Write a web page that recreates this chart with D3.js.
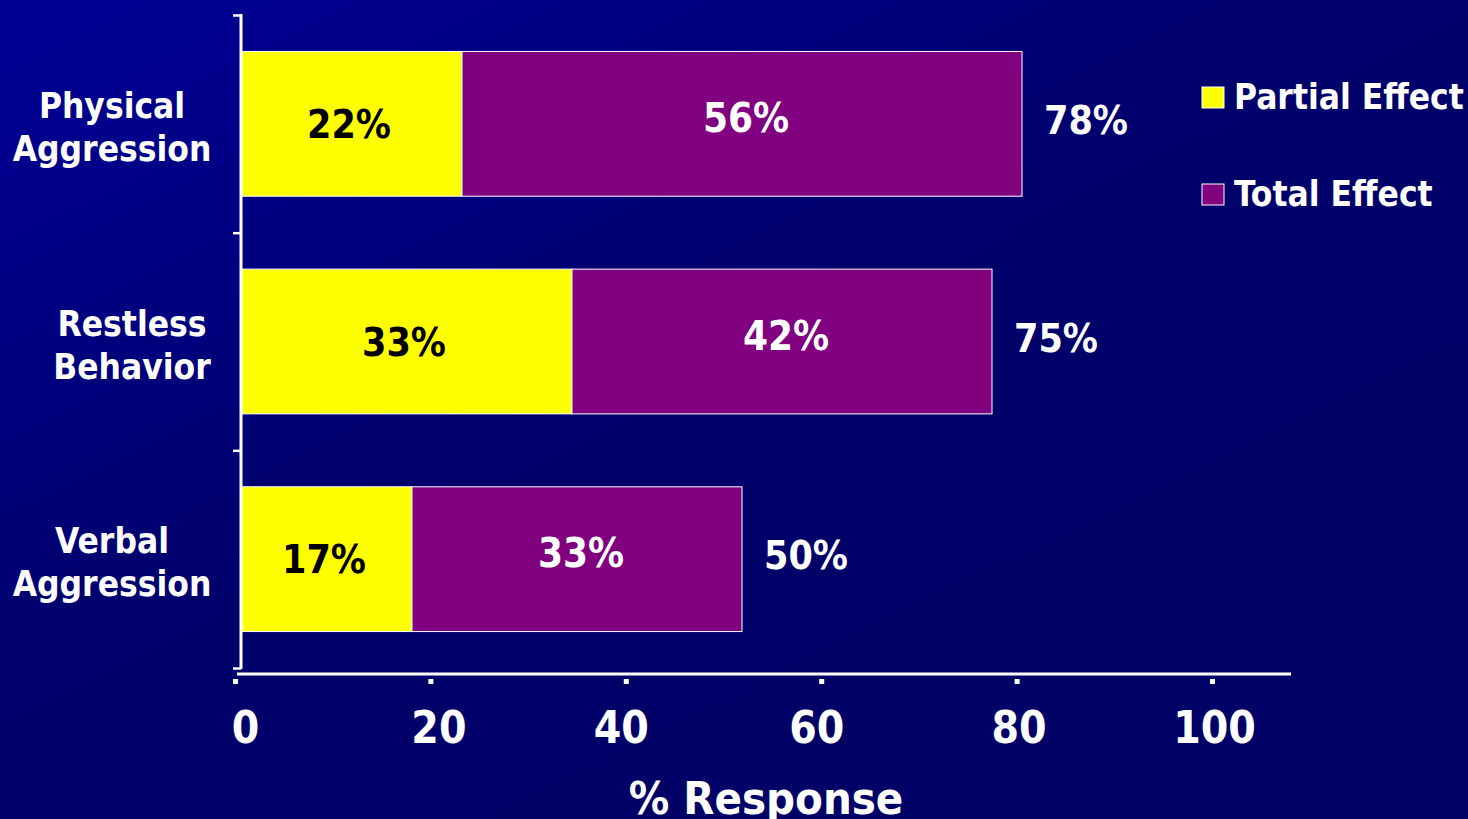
<!DOCTYPE html>
<html>
<head>
<meta charset="utf-8">
<script src="https://cdn.jsdelivr.net/npm/d3@7"></script>
<style>
  html, body { margin: 0; padding: 0; background: #000070; overflow: hidden; }
  text { font-family: "DejaVu Sans Condensed", "DejaVu Sans", sans-serif; font-stretch: condensed; font-weight: bold; }
</style>
</head>
<body>
<div id="chart"></div>
<script>
// data
const categories = ["Physical Aggression", "Restless Behavior", "Verbal Aggression"];
const categoryLines = [["Physical", "Aggression"], ["Restless", "Behavior"], ["Verbal", "Aggression"]];
const partialEffect = [22, 33, 17];
const totalEffect = [56, 42, 33];
const overall = [78, 75, 50];
const xTicks = [0, 20, 40, 60, 80, 100];
const seriesNames = ["Partial Effect", "Total Effect"];
const seriesColors = ["#ffff00", "#800080"];

const width = 1468;
const height = 819;

const svg = d3.select("#chart")
  .append("svg")
  .attr("width", width)
  .attr("height", height);

// background gradient
const grad = svg.append("defs")
  .append("linearGradient")
  .attr("id", "bg")
  .attr("x1", 0).attr("y1", 0)
  .attr("x2", 0.7).attr("y2", 0.8);
grad.append("stop").attr("offset", 0).attr("stop-color", "#000096");
grad.append("stop").attr("offset", 0.6).attr("stop-color", "#00006c");
grad.append("stop").attr("offset", 1).attr("stop-color", "#000066");
svg.append("rect").attr("width", width).attr("height", height).attr("fill", "url(#bg)");

//scales - bars and the printed axis don't line up exactly in the original, keep both
const xBar = d3.scaleLinear().domain([0, 100]).range([242, 1242]);
const xAxisScale = d3.scaleLinear().domain([0, 100]).range([235, 1212]);
const y = d3.scaleBand()
  .domain(categories)
  .range([15, 668])
  .paddingInner(0.335)
  .paddingOuter(0.1675);
const yEdges = d3.scaleLinear().domain([0, categories.length]).range([15, 668]);

const rows = categories.map((c, i) => ({
  cat: c,
  lines: categoryLines[i],
  partial: partialEffect[i],
  total: totalEffect[i],
  sum: overall[i],
}));

// bars
const g = svg.append("g");
g.selectAll("rect.partial")
  .data(rows)
  .enter()
  .append("rect")
  .attr("class", "partial")
  .attr("x", xBar(0))
  .attr("y", (d) => y(d.cat))
  .attr("width", (d) => xBar(d.partial) - xBar(0))
  .attr("height", y.bandwidth())
  .attr("fill", seriesColors[0])
  .attr("stroke", "#ffffff")
  .attr("stroke-width", 1);
g.selectAll("rect.total")
  .data(rows)
  .enter()
  .append("rect")
  .attr("class", "total")
  .attr("x", (d) => xBar(d.partial))
  .attr("y", (d) => y(d.cat))
  .attr("width", (d) => xBar(d.partial + d.total) - xBar(d.partial))
  .attr("height", y.bandwidth())
  .attr("fill", seriesColors[1])
  .attr("stroke", "#ffffff")
  .attr("stroke-width", 1);

// labels on bars
const mid = (d) => y(d.cat) + y.bandwidth() / 2;
g.selectAll("text.plab")
  .data(rows)
  .enter()
  .append("text")
  .attr("x", (d) => (xBar(0) + xBar(d.partial)) / 2 - 3)
  .attr("y", (d) => mid(d) + 14)
  .attr("text-anchor", "middle")
  .attr("font-size", 39)
  .attr("fill", "#000000")
  .text((d) => d.partial + "%");
g.selectAll("text.tlab")
  .data(rows)
  .enter()
  .append("text")
  .attr("x", (d) => (xBar(d.partial) + xBar(d.partial + d.total)) / 2 + 4)
  .attr("y", (d) => mid(d) + 8)
  .attr("text-anchor", "middle")
  .attr("font-size", 40)
  .attr("fill", "#ffffff")
  .text((d) => d.total + "%");
g.selectAll("text.slab")
  .data(rows)
  .enter()
  .append("text")
  .attr("x", (d) => xBar(d.partial + d.total) + 22)
  .attr("y", (d) => mid(d) + 10)
  .attr("font-size", 39)
  .attr("fill", "#ffffff")
  .text((d) => d.sum + "%");

// category labels
const catText = svg.append("g")
  .selectAll("text")
  .data(rows)
  .enter()
  .append("text")
  .attr("text-anchor", "middle")
  .attr("font-size", 35)
  .attr("fill", "#ffffff");
catText.append("tspan")
  .attr("x", (d, i) => (i === 1 ? 132 : 112))
  .attr("y", (d) => mid(d) - 6)
  .text((d) => d.lines[0]);
catText.append("tspan")
  .attr("x", (d, i) => (i === 1 ? 132 : 112))
  .attr("y", (d) => mid(d) + 37)
  .text((d) => d.lines[1]);

// y axis
const yAxis = svg.append("g")
  .attr("transform", "translate(241,0)")
  .call(d3.axisLeft(yEdges).tickValues(d3.range(categories.length + 1)).tickSize(8).tickFormat(""));
yAxis.select(".domain").attr("stroke", "#ffffff").attr("stroke-width", 3).attr("d", "M0,14V669");
yAxis.selectAll(".tick line").attr("stroke", "#ffffff").attr("stroke-width", 2.5);

// x axis
svg.append("line")
  .attr("x1", 237).attr("x2", 1291)
  .attr("y1", 674).attr("y2", 674)
  .attr("stroke", "#ffffff")
  .attr("stroke-width", 3);
const xAxis = svg.append("g")
  .attr("transform", "translate(0,679)")
  .call(d3.axisBottom(xAxisScale).tickValues(xTicks).tickSize(0).tickPadding(0));
xAxis.select(".domain").remove();
xAxis.selectAll(".tick")
  .append("rect")
  .attr("x", -2.5).attr("y", 0)
  .attr("width", 5).attr("height", 5)
  .attr("fill", "#ffffff");
xAxis.selectAll(".tick text")
  .attr("fill", "#ffffff")
  .attr("font-size", 44)
  .attr("font-family", null)
  .attr("dy", null)
  .attr("dx", (d) => (d === 0 ? 10 : d === 20 ? 8 : d === 40 ? -5 : d === 60 ? -5 : 2))
  .attr("y", 64);

svg.append("text")
  .attr("x", 766)
  .attr("y", 814)
  .attr("text-anchor", "middle")
  .attr("font-size", 45)
  .attr("fill", "#ffffff")
  .text("% Response");

// legend
const legend = svg.append("g")
  .selectAll("g")
  .data(seriesNames)
  .enter()
  .append("g")
  .attr("transform", (d, i) => `translate(1202,${87 + i * 97})`);
legend.append("rect")
  .attr("width", 22).attr("height", 21)
  .attr("fill", (d, i) => seriesColors[i])
  .attr("stroke", "#ffffff")
  .attr("stroke-width", 1);
legend.append("text")
  .attr("x", 32)
  .attr("y", 22)
  .attr("font-size", 35)
  .attr("fill", "#ffffff")
  .text((d) => d);
</script>
</body>
</html>
